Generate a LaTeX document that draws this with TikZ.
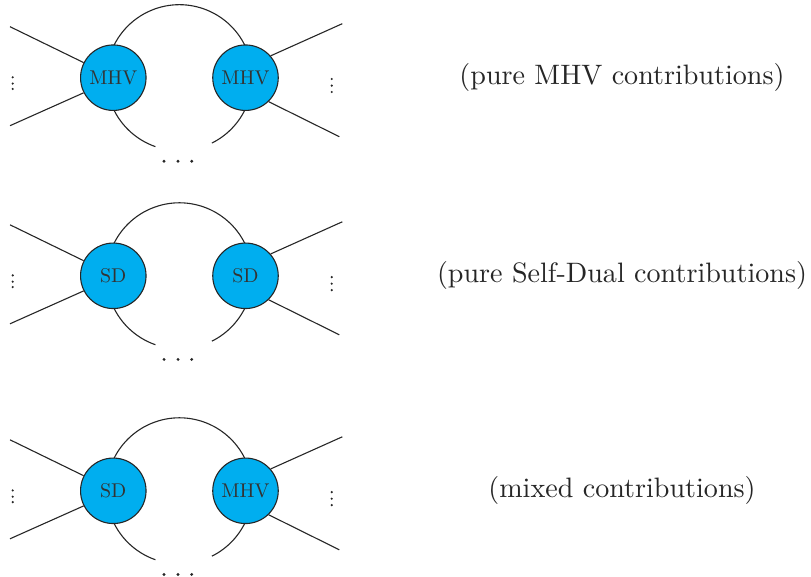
\documentclass[tikz,border=0pt]{standalone}
\definecolor{blobblue}{HTML}{00AEEF}
\newcommand{\blobtext}[1]{\scalebox{1.99}{#1}}
\newcommand{\captext}[1]{\scalebox{2.81}{#1}}
\tikzset{
  blob/.style={circle, draw=black!85, fill=blobblue, line width=1.1pt,
    minimum size=65.5pt, inner sep=0pt, text=black!80},
  wire/.style={line width=1.1pt, draw=black!85},
  caption/.style={inner sep=0pt, text=black!85},
  bigdot/.style={circle, fill=black!85, inner sep=0pt, minimum size=3.2pt},
  smalldot/.style={circle, fill=black!85, inner sep=0pt, minimum size=2.4pt}
}
\begin{document}
\begin{tikzpicture}[x=1pt,y=1pt]
\useasboundingbox (0,0) rectangle (811,-577);
\foreach \i/\yc/\la/\lb/\cp in {
  1/-77.7/MHV/MHV/{(pure MHV contributions)},
  2/-275.8/SD/SD/{(pure Self-Dual contributions)},
  3/-490.8/SD/MHV/{(mixed contributions)}}{
  % loop arcs (drawn before the blobs so the blobs cover their ends)
  \coordinate (M\i) at (179.4,\yc);
  \draw[wire] ([shift={(20:73)}]M\i) arc[start angle=20, end angle=160, radius=73];
  \draw[wire] ([shift={(200:73)}]M\i) arc[start angle=200, end angle=250.8, radius=73];
  \draw[wire] ([shift={(296.4:73)}]M\i) arc[start angle=296.4, end angle=340, radius=73];
  % blobs
  \node[blob] (L\i) at (113.3,\yc) {\blobtext{\la}};
  \node[blob] (R\i) at (245.5,\yc) {\blobtext{\lb}};
  % external legs
  \coordinate (lu\i) at (10,\yc+51);
  \coordinate (ll\i) at (10,\yc-48);
  \coordinate (ru\i) at (342.3,\yc+54);
  \coordinate (rl\i) at (339.3,\yc-59);
  \draw[wire] (lu\i) -- (L\i.153.4);
  \draw[wire] (ll\i) -- (L\i.207.4);
  \draw[wire] (ru\i) -- (R\i.41);
  \draw[wire] (rl\i) -- (R\i.-46);
  % vertical dots
  \node[smalldot] (lva\i) at (12.7,\yc+0.4) {};
  \node[smalldot] (lvb\i) at (12.7,\yc-5.9) {};
  \node[smalldot] (lvc\i) at (12.7,\yc-11.3) {};
  \node[smalldot] (rva\i) at (331.7,\yc-1.3) {};
  \node[smalldot] (rvb\i) at (331.7,\yc-7.9) {};
  \node[smalldot] (rvc\i) at (331.7,\yc-14.3) {};
  % horizontal dots
  \node[bigdot] (da\i) at (164,\yc-83.6) {};
  \node[bigdot] (db\i) at (178,\yc-83.6) {};
  \node[bigdot] (dc\i) at (191.7,\yc-83.6) {};
  % caption
  \node[caption] (cap\i) at (622,\yc) {\captext{\cp}};
}
\end{tikzpicture}
\end{document}
